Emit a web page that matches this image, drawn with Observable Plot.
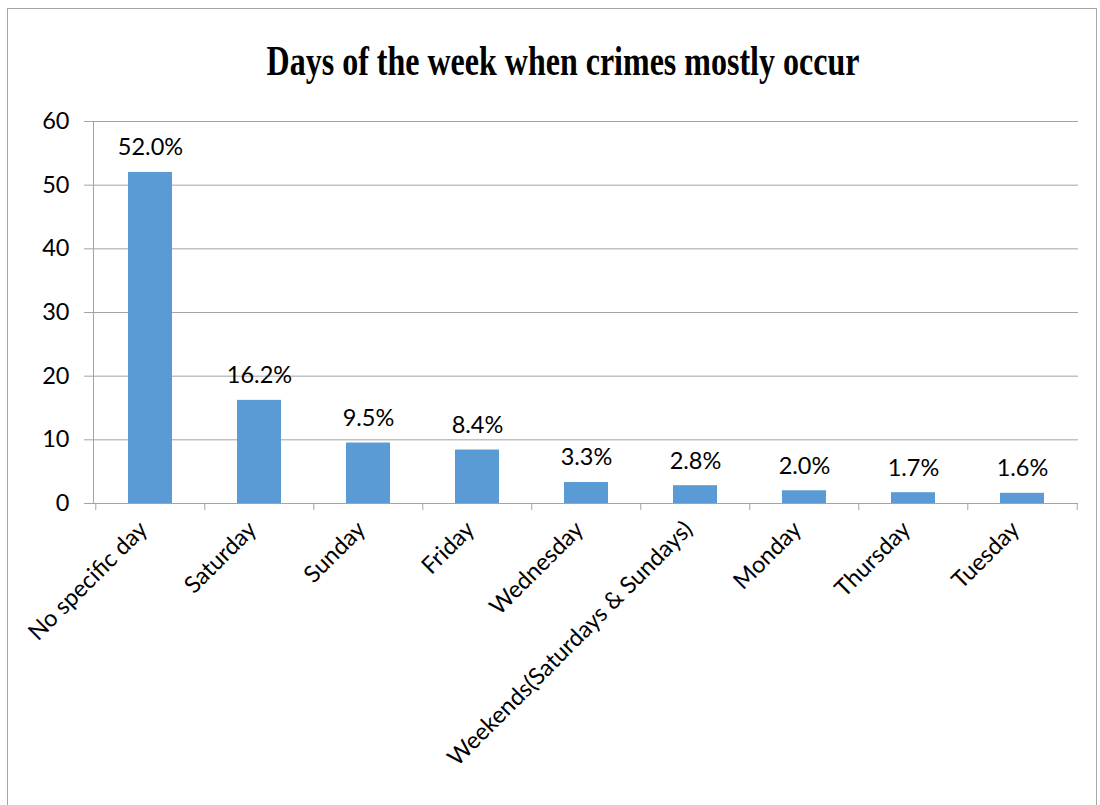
<!DOCTYPE html>
<html><head><meta charset="utf-8">
<script src="https://cdn.jsdelivr.net/npm/d3@7"></script>
<script src="https://cdn.jsdelivr.net/npm/@observablehq/plot@0.6"></script>
<style>
body{margin:0;background:#fff;}
#wrap{position:relative;width:1100px;height:805px;overflow:hidden;background:#fff;}
#frame{position:absolute;left:7px;top:8px;width:1090px;height:830px;border:1.5px solid #a6a6a6;box-sizing:border-box;pointer-events:none;}
#title{position:absolute;top:49px;left:0;width:1126px;text-align:center;font-family:"Liberation Serif","Times New Roman",serif;font-weight:bold;font-size:32px;line-height:1;color:#000;transform:scaleY(1.3);transform-origin:50% 100%;}
#chart{position:absolute;top:100px;left:0;}
</style></head>
<body>
<div id="wrap">
  <div id="title">Days of the week when crimes mostly occur</div>
  <div id="chart"></div>
  <div id="frame"></div>
</div>
<script>
const categories = ["No specific day","Saturday","Sunday","Friday","Wednesday","Weekends(Saturdays & Sundays)","Monday","Thursday","Tuesday"];
const values = [52.0, 16.2, 9.5, 8.4, 3.3, 2.8, 2.0, 1.7, 1.6];
const valueLabels = ["52.0%","16.2%","9.5%","8.4%","3.3%","2.8%","2.0%","1.7%","1.6%"];
const yTicks = [0, 10, 20, 30, 40, 50, 60];

const data = categories.map((c, i) => ({category: c, value: values[i], label: valueLabels[i]}));
const W = 1100, H = 705, ML = 93, MR = 22, MT = 21, MB = 302;
const step = (W - ML - MR) / categories.length;
const gridColor = "#a3a3a3";
const FS = 23.5;

const chart = Plot.plot({
  width: W, height: H,
  marginLeft: ML, marginRight: MR, marginTop: MT, marginBottom: MB,
  style: {fontFamily: "Lato, 'Open Sans', sans-serif", fontSize: FS + "px", color: "#000", background: "transparent"},
  x: {domain: categories, paddingInner: 0.6, paddingOuter: 0.3, label: null},
  y: {domain: [0, 60], label: null},
  marks: [
    Plot.gridY(yTicks, {stroke: gridColor, strokeOpacity: 1, strokeWidth: 1}),
    Plot.axisY(yTicks, {tickSize: 9, tickPadding: 15, stroke: gridColor, fill: "#000", label: null, fontSize: FS}),
    Plot.frame({anchor: "left", stroke: gridColor}),
    Plot.ruleX(categories, {x: d => d, dx: -step / 2, y1: 0, y2: 0, insetBottom: -7, stroke: gridColor}),
    Plot.ruleX(categories.slice(-1), {x: d => d, dx: step / 2, y1: 0, y2: 0, insetBottom: -7, stroke: gridColor}),
    Plot.axisX({tickSize: 0, tickPadding: 22, tickRotate: -45, dx: -7, fill: "#000", label: null, fontSize: FS}),
    Plot.barY(data, {x: "category", y: "value", fill: "#5B9BD5"}),
    Plot.text(data, {x: "category", y: "value", text: "label", lineAnchor: "bottom", dy: -17, fill: "#000", fontSize: FS})
  ]
});
document.getElementById("chart").appendChild(chart);
</script>
</body></html>
